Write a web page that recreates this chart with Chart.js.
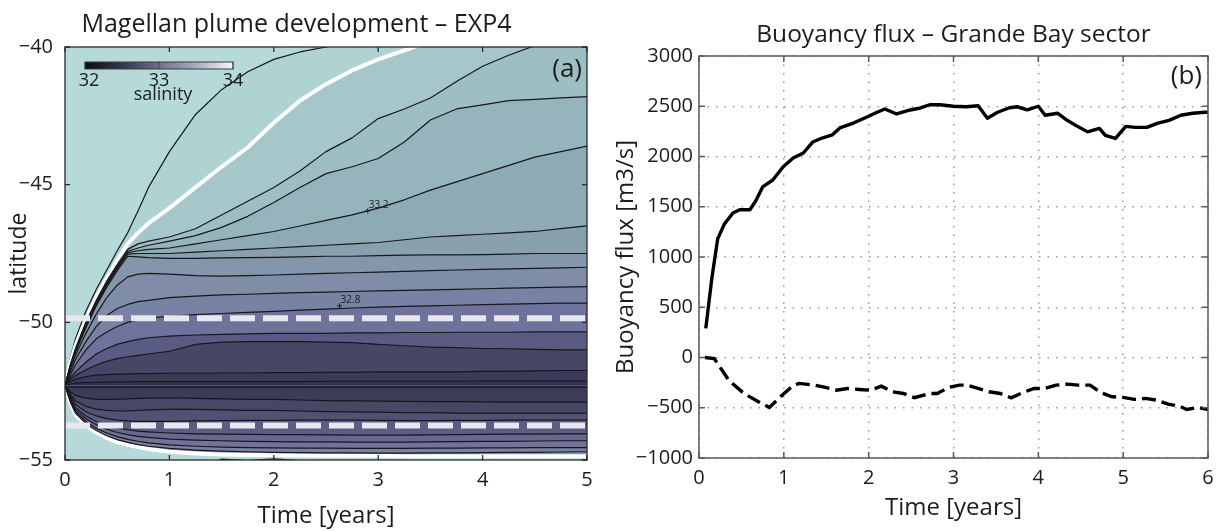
<!DOCTYPE html>
<html><head><meta charset="utf-8">
<script src="https://cdn.jsdelivr.net/npm/chart.js@4.4.1/dist/chart.umd.min.js"></script>
<style>
html,body{margin:0;padding:0;background:#fff;}
#wrap{position:relative;width:1225px;height:531px;overflow:hidden;background:#fff;}
#c1{position:absolute;left:0;top:0;}
#c2{position:absolute;left:612px;top:0;}
</style></head><body>
<div id="wrap">
<canvas id="c1" width="612" height="531"></canvas>
<canvas id="c2" width="613" height="531"></canvas>
</div>
<script>
// ---------- Panel (a): salinity contours (time vs latitude) ----------
const T = [0,0.05,0.1,0.2,0.3,0.4,0.5,0.6,0.7,0.8,1.0,1.25,1.5,1.75,2.0,2.25,2.5,2.75,3.0,3.25,3.5,3.75,4.0,4.25,4.5,4.75,5.0];
const cThin  = [-52.3,-51.3,-50.6,-49.6,-48.8,-48.1,-47.4,-46.75,-45.95,-45.1,-43.8,-42.45,-41.55,-40.9,-40.45,-40.18,-40.0,-39.8,-39.6,-39.4,-39.2,-39.0,-38.8,-38.6,-38.4,-38.2,-38.0];
const cWhiteN= [-52.3,-51.5,-50.85,-49.9,-49.1,-48.4,-47.75,-47.15,-46.75,-46.4,-45.85,-45.1,-44.35,-43.65,-42.75,-41.95,-41.35,-40.85,-40.45,-40.12,-39.8,-39.5,-39.2,-38.9,-38.6,-38.3,-38.0];
const cA = [-52.3,-51.55,-50.95,-50.0,-49.2,-48.5,-47.9,-47.35,-47.15,-47.05,-46.9,-46.6,-46.1,-45.6,-45.1,-44.5,-43.8,-43.3,-42.6,-42.25,-41.85,-41.25,-40.7,-40.3,-39.95,-39.6,-39.3];
const cB = [-52.3,-51.58,-51.0,-50.05,-49.25,-48.55,-47.95,-47.42,-47.3,-47.2,-47.05,-46.85,-46.55,-46.15,-45.65,-45.1,-44.6,-44.35,-44.05,-43.45,-42.65,-42.25,-42.1,-41.95,-41.9,-41.85,-41.8];
const cC = [-52.3,-51.6,-51.03,-50.1,-49.3,-48.6,-48.0,-47.47,-47.4,-47.35,-47.3,-47.15,-47.0,-46.85,-46.7,-46.5,-46.3,-46.1,-45.85,-45.55,-45.2,-44.9,-44.6,-44.3,-44.0,-43.8,-43.6];
const cD = [-52.3,-51.62,-51.06,-50.15,-49.35,-48.65,-48.05,-47.52,-47.5,-47.5,-47.5,-47.45,-47.4,-47.35,-47.3,-47.25,-47.2,-47.15,-47.1,-47.0,-46.9,-46.85,-46.8,-46.75,-46.7,-46.6,-46.5];
const cE = [-52.3,-51.64,-51.09,-50.2,-49.4,-48.72,-48.12,-47.6,-47.62,-47.65,-47.68,-47.68,-47.66,-47.65,-47.64,-47.62,-47.6,-47.6,-47.58,-47.56,-47.55,-47.55,-47.54,-47.52,-47.5,-47.5,-47.5];
const cF = [-52.3,-51.7,-51.2,-50.4,-49.7,-49.1,-48.65,-48.35,-48.25,-48.22,-48.25,-48.3,-48.32,-48.3,-48.28,-48.25,-48.22,-48.2,-48.18,-48.15,-48.12,-48.1,-48.08,-48.06,-48.04,-48.02,-48.0];
const cG = [-52.3,-51.8,-51.35,-50.7,-50.15,-49.75,-49.5,-49.35,-49.25,-49.2,-49.1,-49.05,-49.0,-48.98,-48.95,-48.92,-48.9,-48.88,-48.86,-48.84,-48.82,-48.8,-48.78,-48.76,-48.74,-48.72,-48.7];
const cH = [-52.3,-51.9,-51.55,-51.0,-50.6,-50.35,-50.15,-50.0,-49.92,-49.85,-49.78,-49.72,-49.68,-49.64,-49.6,-49.56,-49.52,-49.48,-49.45,-49.42,-49.4,-49.38,-49.36,-49.34,-49.32,-49.3,-49.3];
const cI = [-52.3,-52.0,-51.8,-51.45,-51.15,-50.95,-50.8,-50.7,-50.62,-50.56,-50.5,-50.46,-50.44,-50.42,-50.4,-50.4,-50.4,-50.38,-50.38,-50.37,-50.37,-50.36,-50.36,-50.36,-50.35,-50.35,-50.35];
const cJ = [-52.3,-52.07,-51.93,-51.72,-51.55,-51.42,-51.32,-51.25,-51.2,-51.15,-51.05,-50.8,-50.72,-50.7,-50.7,-50.7,-50.72,-50.74,-50.8,-50.85,-50.9,-50.92,-50.95,-50.96,-50.98,-51.0,-51.0];
const cK = [-52.3,-52.15,-52.07,-51.97,-51.92,-51.9,-51.88,-51.87,-51.86,-51.86,-51.85,-51.85,-51.84,-51.84,-51.83,-51.83,-51.82,-51.82,-51.8,-51.8,-51.8,-51.8,-51.78,-51.78,-51.76,-51.75,-51.75];
const cL = [-52.3,-52.24,-52.21,-52.19,-52.18,-52.17,-52.16,-52.16,-52.15,-52.15,-52.15,-52.15,-52.15,-52.15,-52.15,-52.15,-52.14,-52.14,-52.14,-52.14,-52.14,-52.14,-52.13,-52.13,-52.13,-52.13,-52.13];
const cWhiteS= [-52.3,-52.9,-53.35,-53.75,-54.0,-54.2,-54.35,-54.45,-54.53,-54.6,-54.7,-54.76,-54.8,-54.82,-54.83,-54.84,-54.85,-54.85,-54.85,-54.86,-54.86,-54.86,-54.86,-54.86,-54.86,-54.86,-54.86];
const cS7 = [-52.3,-52.88,-53.3,-53.68,-53.93,-54.12,-54.26,-54.36,-54.44,-54.5,-54.58,-54.64,-54.68,-54.7,-54.72,-54.73,-54.74,-54.74,-54.75,-54.75,-54.74,-54.74,-54.73,-54.72,-54.72,-54.71,-54.7];
const cS6 = [-52.3,-52.85,-53.25,-53.6,-53.85,-54.02,-54.15,-54.25,-54.32,-54.38,-54.45,-54.5,-54.53,-54.55,-54.56,-54.57,-54.57,-54.58,-54.58,-54.58,-54.57,-54.57,-54.56,-54.56,-54.55,-54.55,-54.55];
const cS5 = [-52.3,-52.8,-53.18,-53.5,-53.72,-53.88,-54.0,-54.08,-54.14,-54.18,-54.24,-54.28,-54.3,-54.32,-54.33,-54.34,-54.34,-54.35,-54.35,-54.35,-54.34,-54.33,-54.32,-54.32,-54.31,-54.3,-54.3];
const cS4 = [-52.3,-52.75,-53.1,-53.4,-53.6,-53.74,-53.84,-53.9,-53.95,-53.98,-54.02,-54.05,-54.06,-54.07,-54.08,-54.08,-54.09,-54.1,-54.1,-54.1,-54.09,-54.08,-54.07,-54.06,-54.06,-54.05,-54.05];
const cS3 = [-52.3,-52.68,-52.98,-53.25,-53.4,-53.5,-53.55,-53.58,-53.6,-53.6,-53.6,-53.58,-53.57,-53.56,-53.56,-53.55,-53.55,-53.55,-53.56,-53.57,-53.57,-53.56,-53.56,-53.55,-53.55,-53.55,-53.55];
const cS2 = [-52.3,-52.6,-52.85,-53.05,-53.15,-53.2,-53.22,-53.22,-53.2,-53.18,-53.16,-53.16,-53.18,-53.2,-53.2,-53.22,-53.24,-53.25,-53.26,-53.28,-53.28,-53.3,-53.3,-53.3,-53.3,-53.3,-53.3];
const cS1 = [-52.3,-52.52,-52.65,-52.75,-52.8,-52.8,-52.8,-52.78,-52.76,-52.75,-52.74,-52.76,-52.78,-52.8,-52.8,-52.82,-52.84,-52.85,-52.86,-52.87,-52.88,-52.88,-52.89,-52.9,-52.9,-52.9,-52.9];
const cEdge = [-55.4,-55.4,-55.4,-55.4,-55.4,-55.4,-55.4,-55.4,-55.4,-55.4,-55.4,-55.4,-54.97,-55.02,-54.96,-55.02,-55.4,-55.4,-55.4,-55.4,-55.4,-55.4,-55.4,-55.4,-55.4,-55.4,-55.4];
const centerLat = -52.3;
const axisLat = -52.35;
const dashedLats = [-49.85, -53.75];
const contourLabels = [{t:2.9, lat:-45.95, text:'33.2'}, {t:2.63, lat:-49.4, text:'32.8'}];
const cbTicks = [32, 33, 34];
const cbStops = ['#0c0c14','#35354f','#6f6f8d','#a9adc0','#f4f7f8'];
const aXTicks = [0,1,2,3,4,5];
const aYTicks = [-55,-50,-45,-40];

// ---------- Panel (b): buoyancy flux ----------
const fluxT = [0.08,0.15,0.22,0.3,0.4,0.48,0.6,0.67,0.75,0.87,0.99,1.11,1.23,1.34,1.45,1.57,1.66,1.82,1.98,2.08,2.19,2.33,2.49,2.61,2.72,2.84,3.0,3.15,3.29,3.40,3.52,3.66,3.75,3.87,4.0,4.08,4.23,4.34,4.46,4.58,4.72,4.79,4.91,5.03,5.14,5.28,5.40,5.54,5.68,5.82,5.96,6.0];
const fluxPos = [290,780,1180,1330,1438,1470,1470,1560,1697,1766,1896,1985,2035,2144,2184,2214,2284,2333,2393,2433,2473,2423,2463,2483,2515,2515,2500,2495,2505,2380,2440,2485,2495,2465,2500,2410,2430,2360,2300,2245,2280,2210,2180,2300,2290,2290,2330,2360,2410,2430,2440,2440];
const negT = [0.07,0.18,0.35,0.53,0.70,0.83,0.96,1.1,1.18,1.36,1.49,1.62,1.75,1.89,2.02,2.15,2.28,2.41,2.54,2.72,2.81,2.94,3.07,3.16,3.29,3.42,3.55,3.68,3.82,3.95,4.08,4.21,4.34,4.47,4.61,4.74,4.87,5.0,5.13,5.26,5.39,5.53,5.66,5.75,5.88,6.0];
const fluxNeg = [0,-10,-225,-358,-440,-497,-391,-285,-258,-275,-298,-325,-308,-318,-325,-285,-341,-358,-400,-358,-358,-298,-275,-275,-308,-341,-358,-401,-348,-308,-308,-275,-265,-275,-275,-351,-391,-397,-417,-407,-424,-464,-483,-517,-497,-517];
const bXTicks = [0,1,2,3,4,5,6];
const bYTicks = [-1000,-500,0,500,1000,1500,2000,2500,3000];

// ---------- shared helpers ----------
const FONT = "'Open Sans', sans-serif";
Chart.defaults.font.family = FONT;
Chart.defaults.color = '#1c1c1c';
const fmt = v => (v < 0 ? '\u2212' + Math.abs(v) : String(v));
const pts = (xs, ys) => xs.map((x, i) => ({x: x, y: ys[i]}));

const framePlugin = {
  id: 'frame',
  afterDraw(chart, args, o) {
    const {ctx, chartArea: a} = chart;
    const xs = chart.scales.x, ys = chart.scales.y;
    ctx.save();
    ctx.strokeStyle = o.color; ctx.lineWidth = o.width;
    ctx.beginPath();
    xs.ticks.forEach(t => {
      const p = xs.getPixelForValue(t.value);
      ctx.moveTo(p, a.bottom); ctx.lineTo(p, a.bottom - o.tick);
      ctx.moveTo(p, a.top); ctx.lineTo(p, a.top + o.tick);
    });
    ys.ticks.forEach(t => {
      const p = ys.getPixelForValue(t.value);
      ctx.moveTo(a.left, p); ctx.lineTo(a.left + o.tick, p);
      ctx.moveTo(a.right, p); ctx.lineTo(a.right - o.tick, p);
    });
    ctx.stroke();
    ctx.strokeRect(a.left, a.top, a.right - a.left, a.bottom - a.top);
    ctx.font = o.tagFont; ctx.fillStyle = '#1c1c1c';
    ctx.textAlign = 'right'; ctx.textBaseline = 'middle';
    ctx.fillText(o.tag, a.right - o.tagDx, a.top + o.tagDy);
    ctx.restore();
  }
};

const bgPlugin = {
  id: 'bg',
  beforeDatasetsDraw(chart, args, o) {
    const {ctx, chartArea: a} = chart;
    ctx.save(); ctx.fillStyle = o.color;
    ctx.fillRect(a.left, a.top, a.right - a.left, a.bottom - a.top);
    ctx.restore();
  }
};

const cbPlugin = {
  id: 'colorbar',
  afterDatasetsDraw(chart, args, o) {
    const {ctx, chartArea: a} = chart;
    const x0 = a.left + 20, x1 = a.left + 168, y0 = a.top + 15, h = 7;
    const g = ctx.createLinearGradient(x0, 0, x1, 0);
    cbStops.forEach((c, i) => g.addColorStop(i / (cbStops.length - 1), c));
    ctx.save();
    ctx.fillStyle = g; ctx.fillRect(x0, y0, x1 - x0, h);
    ctx.strokeStyle = '#3a3a3a'; ctx.lineWidth = 1;
    ctx.strokeRect(x0, y0, x1 - x0, h);
    const lo = cbTicks[0], hi = cbTicks[cbTicks.length - 1];
    ctx.font = "18px " + FONT; ctx.fillStyle = '#1c1c1c';
    ctx.textAlign = 'center'; ctx.textBaseline = 'middle';
    cbTicks.forEach(v => {
      const x = x0 + (v - lo) / (hi - lo) * (x1 - x0);
      ctx.beginPath(); ctx.moveTo(x, y0); ctx.lineTo(x, y0 + 3); ctx.moveTo(x, y0 + h); ctx.lineTo(x, y0 + h - 3); ctx.stroke();
      ctx.fillText(String(v), x + (v === lo ? 4 : 0), y0 + h + 12);
    });
    ctx.fillText('salinity', (x0 + x1) / 2 + 4, y0 + h + 26);
    // contour labels
    const xs = chart.scales.x, ys = chart.scales.y;
    ctx.font = "10px " + FONT; ctx.fillStyle = '#1c1c1c'; ctx.lineWidth = 1; ctx.strokeStyle = '#1c1c1c';
    contourLabels.forEach(l => {
      const px = xs.getPixelForValue(l.t), py = ys.getPixelForValue(l.lat);
      ctx.beginPath(); ctx.moveTo(px - 2.5, py); ctx.lineTo(px + 2.5, py); ctx.moveTo(px, py - 2.5); ctx.lineTo(px, py + 2.5); ctx.stroke();
      ctx.textAlign = 'left'; ctx.textBaseline = 'bottom';
      ctx.fillText(l.text, px + 1, py - 1);
    });
    ctx.restore();
  }
};

// ---------- build panel (a) datasets ----------
const upper = [
  {v: cThin,  fill: '#afd3d3'}, {v: cWhiteN, fill: '#a5c7ca', white: true},
  {v: cA, fill: '#9dbec3'}, {v: cB, fill: '#96b4bc'}, {v: cC, fill: '#8eaab4'},
  {v: cD, fill: '#89a1ae'}, {v: cE, fill: '#8497aa'}, {v: cF, fill: '#7f8da6'},
  {v: cG, fill: '#7882a2'}, {v: cH, fill: '#6f739c'}, {v: cI, fill: '#5a5b82'},
  {v: cJ, fill: '#464667'}, {v: cK, fill: '#3b3b59'}, {v: cL, fill: '#353550'}
];
const lower = [
  {v: cWhiteS, fill: '#8597aa', white: true}, {v: cS7, fill: '#7b82a1'}, {v: cS6, fill: '#717398'},
  {v: cS5, fill: '#68688f'}, {v: cS4, fill: '#5d5d84'}, {v: cS3, fill: '#515174'},
  {v: cS2, fill: '#474766'}, {v: cS1, fill: '#3c3c59'}
];
const aSets = [];
let ord = 1000;
function contourSet(c) {
  return {
    data: pts(T, c.v), fill: {value: centerLat}, backgroundColor: c.fill,
    borderColor: c.white ? '#ffffff' : '#17171c', borderWidth: c.white ? 4 : 1.2,
    pointRadius: 0, tension: 0, borderJoinStyle: 'round', order: ord--
  };
}
upper.forEach(c => aSets.push(contourSet(c)));
lower.forEach(c => aSets.push(contourSet(c)));
aSets.push({data: pts(T, cEdge), fill: false, borderColor: '#17171c', borderWidth: 1.2, pointRadius: 0, order: ord--});
aSets.push({data: pts([T[0], T[T.length - 1]], [axisLat, axisLat]), fill: false, borderColor: '#17171c', borderWidth: 1.2, pointRadius: 0, order: ord--});
dashedLats.forEach(lat => aSets.push({
  data: pts([T[0], T[T.length - 1]], [lat, lat]), fill: false, borderColor: '#e9e7ee',
  borderWidth: 6, borderDash: [25, 8], borderCapStyle: 'butt', pointRadius: 0, order: -10
}));

new Chart(document.getElementById('c1'), {
  type: 'line',
  data: {datasets: aSets},
  plugins: [bgPlugin, cbPlugin, framePlugin],
  options: {
    responsive: false, animation: false, events: [],
    layout: {padding: {left: 6, right: 25, top: 0, bottom: 0}},
    plugins: {
      legend: {display: false}, tooltip: {enabled: false},
      title: {display: true, text: 'Magellan plume development \u2013 EXP4', fullSize: true,
        font: {size: 25, weight: 'normal'}, color: '#1c1c1c', padding: {top: 10, bottom: 7}},
      bg: {color: '#b5dad9'},
      frame: {color: '#2a2a2a', width: 1.3, tick: 5, tag: '(a)', tagFont: "26px " + FONT, tagDx: 5, tagDy: 23}
    },
    scales: {
      x: {type: 'linear', min: 0, max: 5,
        afterBuildTicks: s => { s.ticks = aXTicks.map(v => ({value: v})); },
        ticks: {callback: fmt, font: {size: 20}, padding: 8, autoSkip: false, maxRotation: 0},
        grid: {display: false, drawTicks: false}, border: {display: false},
        title: {display: true, text: 'Time [years]', font: {size: 24}, padding: {top: 0, bottom: 0}},
        afterFit: s => { s.height = 71; }},
      y: {type: 'linear', min: -55, max: -40,
        afterBuildTicks: s => { s.ticks = aYTicks.map(v => ({value: v})); },
        ticks: {callback: fmt, font: {size: 20}, padding: 12, autoSkip: false},
        grid: {display: false, drawTicks: false}, border: {display: false},
        title: {display: true, text: 'latitude', font: {size: 23}, padding: {top: 0, bottom: 0}},
        afterFit: s => { s.width = 59; }}
    }
  }
});

// ---------- panel (b) ----------
new Chart(document.getElementById('c2'), {
  type: 'line',
  data: {datasets: [
    {data: pts(fluxT, fluxPos), borderColor: '#000', borderWidth: 3.4, pointRadius: 0, tension: 0, fill: false, borderJoinStyle: 'round'},
    {data: pts(negT, fluxNeg), borderColor: '#000', borderWidth: 3.4, borderDash: [14, 6], pointRadius: 0, tension: 0, fill: false}
  ]},
  plugins: [framePlugin],
  options: {
    responsive: false, animation: false, events: [],
    layout: {padding: {left: 0, right: 17, top: 0, bottom: 0}},
    plugins: {
      legend: {display: false}, tooltip: {enabled: false},
      title: {display: true, text: 'Buoyancy flux \u2013 Grande Bay sector', fullSize: false,
        font: {size: 24.5, weight: 'normal'}, color: '#1c1c1c', padding: {top: 20.3, bottom: 6.3}},
      frame: {color: '#5a5a5a', width: 1.5, tick: 6, tag: '(b)', tagFont: "26px " + FONT, tagDx: 6, tagDy: 21}
    },
    scales: {
      x: {type: 'linear', min: 0, max: 6,
        afterBuildTicks: s => { s.ticks = bXTicks.map(v => ({value: v})); },
        ticks: {callback: fmt, font: {size: 20}, padding: 8, autoSkip: false, maxRotation: 0},
        grid: {color: '#9a9a9a', lineWidth: 1.5, drawTicks: false}, border: {display: false, dash: [1.5, 7]},
        title: {display: true, text: 'Time [years]', font: {size: 24}, padding: {top: 0, bottom: 8.6}},
        afterFit: s => { s.height = 73; }},
      y: {type: 'linear', min: -1000, max: 3000,
        afterBuildTicks: s => { s.ticks = bYTicks.map(v => ({value: v})); },
        ticks: {callback: fmt, font: {size: 20}, padding: 6, autoSkip: false},
        grid: {color: '#9a9a9a', lineWidth: 1.5, drawTicks: false}, border: {display: false, dash: [1.5, 7]},
        title: {display: true, text: 'Buoyancy flux [m3/s]', font: {size: 24}, padding: {top: 0, bottom: 0}},
        afterFit: s => { s.width = 87; }}
    }
  }
});
</script>
</body></html>
